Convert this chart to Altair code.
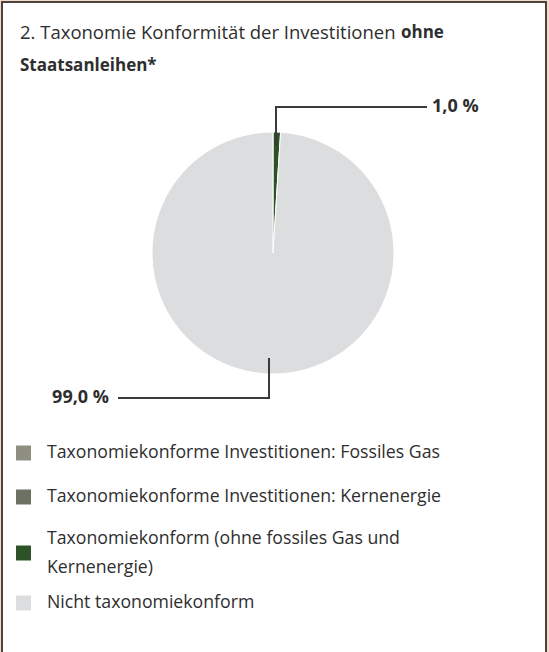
import altair as alt
import pandas as pd

# ---- data ----
categories = [
    "Taxonomiekonforme Investitionen: Fossiles Gas",
    "Taxonomiekonforme Investitionen: Kernenergie",
    "Taxonomiekonform (ohne fossiles Gas und Kernenergie)",
    "Nicht taxonomiekonform",
]
shares = [0.0, 0.0, 1.0, 99.0]
colors = ["#8e8f80", "#6b7263", "#2d5227", "#dcdddf"]
legend_lines = [
    ["Taxonomiekonforme Investitionen: Fossiles Gas"],
    ["Taxonomiekonforme Investitionen: Kernenergie"],
    ["Taxonomiekonform (ohne fossiles Gas und", "Kernenergie)"],
    ["Nicht taxonomiekonform"],
]
value_labels = ["1,0 %", "99,0 %"]
title_normal = "2. Taxonomie Konformität der Investitionen"
title_bold_a = "ohne"
title_bold_b = "Staatsanleihen*"

# ---- layout ----
FONT = "Open Sans"
CX, CY, R = 273, 253, 121
square_y = [453, 497, 553, 603]
text_y = [453, 497, 539, 603]
TEXT_COLOR = "#2e2e2e"
LINE_COLOR = "#3a3a3c"

cscale = alt.Scale(domain=categories, range=colors)

pie_df = pd.DataFrame({"cat": categories, "share": shares, "ord": list(range(len(categories)))})
pie_df = pie_df[pie_df["share"] > 0]

legend_df = pd.DataFrame({"cat": categories, "lines": legend_lines})
one = pd.DataFrame({"a": [0]})

frame = alt.Chart(one).mark_rect(fill="white", stroke="#4a4341", strokeWidth=2).encode(
    x=alt.value(2), x2=alt.value(546), y=alt.value(2), y2=alt.value(700)
)

arc = alt.Chart(pie_df).mark_arc(radius=R, stroke="white", strokeWidth=1).encode(
    theta=alt.Theta("share:Q", stack=True),
    color=alt.Color("cat:N", scale=cscale, legend=None),
    order=alt.Order("ord:Q"),
    x=alt.value(CX),
    y=alt.value(CY),
)

def rule(x1, x2, y1, y2):
    return alt.Chart(one).mark_rule(color=LINE_COLOR, strokeWidth=2).encode(
        x=alt.value(x1), x2=alt.value(x2), y=alt.value(y1), y2=alt.value(y2)
    )

leaders = [
    rule(276, 276, 106, 146),
    rule(275, 427, 107, 107),
    rule(269, 269, 358, 399),
    rule(118, 270, 398, 398),
]

def txt(s, x, y, size, bold=False, align="left"):
    kw = dict(text=s, font=FONT, fontSize=size, align=align, baseline="middle", color=TEXT_COLOR)
    if bold:
        kw["fontWeight"] = "bold"
    return alt.Chart(one).mark_text(**kw).encode(x=alt.value(x), y=alt.value(y))

lab1 = txt(value_labels[0], 432, 107, 18, bold=True)
lab2 = txt(value_labels[1], 109, 398, 18, bold=True, align="right")
t1 = txt(title_normal, 20, 33, 18.5)
t2 = txt(title_bold_a, 401, 33, 17, bold=True)
t3 = txt(title_bold_b, 20, 66, 17, bold=True)

legend_layers = []
for i, cat in enumerate(categories):
    sq = alt.Chart(legend_df).transform_filter(alt.datum.cat == cat).mark_square(
        size=225, opacity=1
    ).encode(
        x=alt.value(23.5), y=alt.value(square_y[i]),
        color=alt.Color("cat:N", scale=cscale, legend=None),
    )
    tx = alt.Chart(legend_df).transform_filter(alt.datum.cat == cat).mark_text(
        font=FONT, fontSize=17.7, align="left", baseline="middle", lineHeight=29, color=TEXT_COLOR
    ).encode(x=alt.value(47), y=alt.value(text_y[i]), text="lines")
    legend_layers += [sq, tx]

chart = alt.layer(frame, arc, *leaders, lab1, lab2, t1, t2, t3, *legend_layers).properties(
    width=549, height=652, padding=0, autosize="none", background="#f6dac6"
).configure_view(strokeWidth=0)

chart.save("out.html", embed_options={"renderer": "svg", "actions": False})
